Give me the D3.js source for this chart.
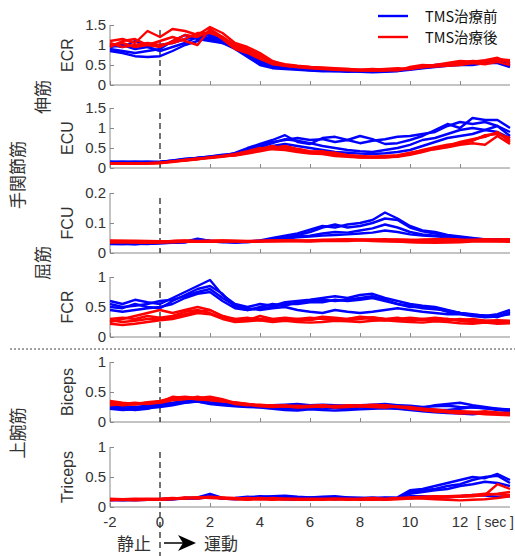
<!DOCTYPE html>
<html>
<head>
<meta charset="utf-8">
<script src="https://cdn.jsdelivr.net/npm/d3@7"></script>
<style>
  body { margin: 0; background: #fff; }
  text { font-family: "Noto Sans CJK JP", "Noto Sans", sans-serif; }
</style>
</head>
<body>
<svg id="chart" width="515" height="556"></svg>
<script>
// time axis: -2 .. 14 sec, sampled every 0.5 sec
var times = d3.range(-2, 14.01, 0.5);
var xTicks = [-2, 0, 2, 4, 6, 8, 10, 12];
var seriesNames = ["TMS治療前", "TMS治療後"];

var muscles = ["ECR", "ECU", "FCU", "FCR", "Biceps", "Triceps"];
var yMax = [1.5, 1.5, 0.2, 1, 1, 1];
var yTicks = [[0, 0.5, 1, 1.5], [0, 0.5, 1, 1.5], [0, 0.1, 0.2], [0, 0.5, 1], [0, 0.5, 1], [0, 0.5, 1]];

// before TMS (blue), 4 trials per muscle
var ecrBefore = [
  [0.95,1.00,0.90,0.95,1.00,1.05,1.15,1.20,1.15,1.05,0.95,0.75,0.55,0.45,0.42,0.40,0.38,0.38,0.36,0.35,0.36,0.35,0.36,0.38,0.40,0.45,0.48,0.50,0.52,0.55,0.55,0.60,0.50],
  [0.85,0.80,0.72,0.70,0.72,0.85,1.00,1.10,1.20,1.10,1.00,0.85,0.60,0.48,0.42,0.40,0.37,0.36,0.35,0.34,0.33,0.32,0.33,0.35,0.38,0.42,0.45,0.48,0.50,0.50,0.55,0.55,0.45],
  [0.90,0.85,0.80,0.85,0.90,1.10,1.25,1.15,1.10,1.05,0.90,0.70,0.50,0.42,0.40,0.38,0.36,0.34,0.35,0.33,0.34,0.36,0.35,0.36,0.40,0.43,0.46,0.50,0.55,0.58,0.60,0.62,0.55],
  [1.00,0.95,1.10,0.95,0.85,0.95,1.05,1.20,1.25,1.15,1.00,0.80,0.58,0.50,0.45,0.42,0.40,0.39,0.37,0.36,0.36,0.35,0.34,0.35,0.42,0.46,0.50,0.52,0.55,0.52,0.58,0.60,0.48]
];
var ecuBefore = [
  [0.15,0.16,0.15,0.14,0.15,0.18,0.22,0.25,0.27,0.30,0.35,0.45,0.55,0.65,0.70,0.75,0.70,0.72,0.65,0.70,0.62,0.68,0.72,0.78,0.80,0.85,0.90,1.05,1.15,1.10,1.15,1.05,0.90],
  [0.14,0.15,0.16,0.15,0.14,0.17,0.20,0.24,0.28,0.30,0.38,0.50,0.60,0.70,0.82,0.65,0.60,0.75,0.78,0.70,0.80,0.72,0.60,0.62,0.70,0.80,0.95,1.10,1.00,1.25,1.20,1.20,1.00],
  [0.16,0.15,0.14,0.15,0.16,0.18,0.21,0.26,0.28,0.32,0.33,0.40,0.48,0.55,0.60,0.55,0.50,0.45,0.40,0.38,0.36,0.35,0.37,0.40,0.45,0.55,0.65,0.75,0.80,0.85,0.95,0.90,0.75],
  [0.15,0.14,0.15,0.16,0.15,0.19,0.23,0.25,0.29,0.33,0.36,0.42,0.52,0.62,0.72,0.68,0.62,0.55,0.50,0.45,0.42,0.40,0.45,0.50,0.58,0.70,0.75,0.85,0.95,1.00,0.95,1.05,0.80]
];
var fcuBefore = [
  [0.030,0.031,0.029,0.032,0.034,0.035,0.038,0.048,0.040,0.037,0.036,0.038,0.042,0.050,0.058,0.065,0.078,0.090,0.085,0.095,0.100,0.110,0.135,0.115,0.090,0.075,0.070,0.060,0.055,0.050,0.045,0.045,0.044],
  [0.033,0.032,0.031,0.030,0.033,0.034,0.036,0.044,0.039,0.036,0.037,0.036,0.040,0.045,0.052,0.060,0.070,0.085,0.095,0.085,0.090,0.100,0.115,0.110,0.085,0.072,0.065,0.058,0.052,0.048,0.046,0.044,0.043],
  [0.031,0.030,0.032,0.031,0.032,0.035,0.037,0.045,0.041,0.038,0.035,0.037,0.041,0.044,0.050,0.055,0.058,0.065,0.070,0.068,0.075,0.082,0.095,0.085,0.070,0.062,0.058,0.055,0.050,0.046,0.045,0.043,0.042],
  [0.032,0.031,0.030,0.032,0.033,0.034,0.036,0.043,0.040,0.037,0.036,0.037,0.039,0.043,0.048,0.052,0.055,0.058,0.060,0.062,0.065,0.068,0.075,0.070,0.062,0.058,0.056,0.052,0.049,0.047,0.044,0.042,0.041]
];
var fcrBefore = [
  [0.60,0.55,0.62,0.58,0.55,0.65,0.75,0.85,0.95,0.70,0.55,0.50,0.55,0.52,0.58,0.60,0.62,0.65,0.68,0.65,0.70,0.72,0.65,0.60,0.55,0.52,0.50,0.45,0.40,0.38,0.35,0.38,0.45],
  [0.50,0.48,0.55,0.50,0.48,0.60,0.70,0.80,0.85,0.72,0.50,0.45,0.50,0.55,0.52,0.58,0.60,0.62,0.60,0.62,0.65,0.68,0.62,0.55,0.50,0.50,0.48,0.42,0.40,0.36,0.35,0.35,0.38],
  [0.45,0.42,0.45,0.48,0.50,0.55,0.65,0.72,0.75,0.60,0.48,0.45,0.48,0.50,0.55,0.55,0.58,0.58,0.62,0.60,0.62,0.65,0.60,0.55,0.52,0.48,0.46,0.44,0.40,0.37,0.36,0.33,0.40],
  [0.55,0.50,0.52,0.55,0.60,0.62,0.68,0.75,0.80,0.65,0.52,0.48,0.45,0.48,0.50,0.45,0.42,0.40,0.45,0.42,0.40,0.42,0.45,0.48,0.45,0.42,0.40,0.38,0.38,0.35,0.33,0.34,0.42]
];
var bicepsBefore = [
  [0.25,0.22,0.20,0.22,0.28,0.30,0.33,0.35,0.32,0.30,0.28,0.26,0.27,0.28,0.27,0.26,0.28,0.27,0.26,0.27,0.28,0.26,0.27,0.28,0.25,0.24,0.28,0.30,0.32,0.28,0.25,0.22,0.20],
  [0.22,0.20,0.21,0.23,0.25,0.28,0.32,0.34,0.30,0.28,0.26,0.25,0.24,0.22,0.20,0.19,0.21,0.20,0.19,0.20,0.21,0.22,0.23,0.22,0.20,0.18,0.16,0.15,0.14,0.13,0.15,0.14,0.16],
  [0.28,0.26,0.25,0.27,0.30,0.32,0.35,0.36,0.33,0.31,0.29,0.28,0.27,0.28,0.29,0.30,0.28,0.29,0.28,0.27,0.28,0.29,0.30,0.28,0.27,0.25,0.26,0.27,0.25,0.24,0.23,0.22,0.21],
  [0.24,0.23,0.22,0.25,0.27,0.30,0.33,0.34,0.31,0.29,0.27,0.26,0.25,0.24,0.23,0.22,0.22,0.24,0.23,0.22,0.24,0.25,0.24,0.23,0.22,0.21,0.20,0.20,0.22,0.25,0.23,0.20,0.18]
];
var tricepsBefore = [
  [0.12,0.12,0.13,0.12,0.13,0.14,0.15,0.16,0.22,0.15,0.14,0.16,0.18,0.17,0.16,0.15,0.16,0.15,0.14,0.16,0.15,0.16,0.15,0.16,0.28,0.30,0.35,0.40,0.45,0.50,0.48,0.55,0.45],
  [0.11,0.12,0.11,0.12,0.12,0.13,0.14,0.15,0.18,0.14,0.15,0.17,0.16,0.18,0.19,0.17,0.16,0.17,0.18,0.16,0.15,0.14,0.16,0.15,0.25,0.28,0.30,0.35,0.38,0.45,0.50,0.52,0.40],
  [0.13,0.12,0.12,0.13,0.12,0.13,0.15,0.14,0.17,0.14,0.13,0.14,0.15,0.14,0.13,0.12,0.13,0.14,0.13,0.14,0.15,0.14,0.14,0.15,0.22,0.25,0.28,0.30,0.35,0.38,0.42,0.40,0.35],
  [0.12,0.11,0.12,0.12,0.13,0.14,0.14,0.15,0.16,0.15,0.14,0.15,0.16,0.15,0.14,0.13,0.14,0.15,0.14,0.15,0.14,0.13,0.14,0.15,0.18,0.18,0.17,0.16,0.18,0.20,0.19,0.17,0.18]
];

// after TMS (red)
var ecrAfter = [
  [1.10,1.15,1.05,1.35,1.20,1.40,1.35,1.25,1.45,1.30,1.05,0.95,0.80,0.60,0.50,0.47,0.45,0.42,0.40,0.40,0.38,0.38,0.40,0.42,0.40,0.48,0.50,0.55,0.60,0.58,0.62,0.68,0.55],
  [1.00,1.05,0.95,1.00,1.10,1.20,1.10,1.00,1.40,1.20,1.00,0.90,0.75,0.55,0.48,0.45,0.42,0.40,0.38,0.37,0.36,0.37,0.36,0.38,0.42,0.45,0.50,0.50,0.55,0.60,0.58,0.62,0.60],
  [1.05,0.95,1.00,1.05,1.00,1.05,1.15,1.30,1.30,1.20,0.95,0.85,0.70,0.58,0.52,0.48,0.45,0.44,0.42,0.40,0.38,0.40,0.38,0.36,0.45,0.50,0.48,0.52,0.58,0.55,0.60,0.65,0.62],
  [0.95,1.10,1.15,1.00,0.95,1.10,1.25,1.20,1.35,1.15,0.90,0.80,0.65,0.52,0.48,0.45,0.44,0.42,0.40,0.38,0.37,0.36,0.37,0.39,0.40,0.44,0.46,0.48,0.50,0.55,0.52,0.58,0.50]
];
var ecuAfter = [
  [0.12,0.12,0.11,0.12,0.13,0.16,0.20,0.22,0.27,0.30,0.32,0.38,0.45,0.50,0.55,0.48,0.42,0.40,0.38,0.32,0.30,0.28,0.28,0.30,0.35,0.42,0.50,0.55,0.62,0.70,0.80,0.88,0.70],
  [0.11,0.12,0.12,0.11,0.13,0.15,0.19,0.23,0.25,0.28,0.33,0.40,0.48,0.55,0.48,0.42,0.40,0.37,0.33,0.30,0.27,0.26,0.27,0.28,0.33,0.40,0.48,0.55,0.65,0.72,0.78,0.90,0.65],
  [0.12,0.11,0.12,0.12,0.12,0.16,0.21,0.24,0.26,0.30,0.35,0.42,0.50,0.47,0.45,0.40,0.36,0.35,0.30,0.28,0.26,0.27,0.26,0.29,0.36,0.45,0.52,0.58,0.62,0.68,0.82,0.85,0.75],
  [0.12,0.12,0.11,0.12,0.13,0.17,0.18,0.22,0.26,0.29,0.31,0.36,0.42,0.48,0.52,0.45,0.40,0.42,0.35,0.32,0.29,0.28,0.30,0.32,0.38,0.44,0.47,0.52,0.58,0.62,0.58,0.80,0.60]
];
var fcuAfter = [
  [0.040,0.041,0.039,0.037,0.038,0.040,0.041,0.039,0.040,0.041,0.040,0.039,0.040,0.041,0.042,0.041,0.040,0.042,0.043,0.044,0.045,0.044,0.043,0.045,0.044,0.042,0.043,0.044,0.042,0.041,0.043,0.044,0.045],
  [0.037,0.038,0.036,0.035,0.036,0.038,0.039,0.038,0.039,0.040,0.039,0.038,0.039,0.040,0.041,0.040,0.041,0.043,0.042,0.042,0.043,0.041,0.040,0.038,0.037,0.036,0.037,0.038,0.040,0.042,0.041,0.040,0.042],
  [0.035,0.036,0.035,0.034,0.035,0.036,0.037,0.038,0.037,0.038,0.038,0.037,0.038,0.038,0.039,0.039,0.038,0.040,0.041,0.040,0.042,0.040,0.039,0.038,0.036,0.035,0.034,0.035,0.036,0.038,0.039,0.038,0.037],
  [0.042,0.040,0.041,0.040,0.039,0.040,0.042,0.040,0.041,0.042,0.041,0.040,0.041,0.042,0.043,0.042,0.042,0.044,0.045,0.046,0.044,0.045,0.046,0.044,0.043,0.045,0.046,0.047,0.045,0.044,0.046,0.045,0.046]
];
var fcrAfter = [
  [0.25,0.30,0.35,0.40,0.45,0.40,0.45,0.50,0.45,0.35,0.30,0.28,0.35,0.30,0.28,0.30,0.32,0.30,0.28,0.30,0.32,0.30,0.28,0.30,0.32,0.30,0.28,0.30,0.27,0.25,0.26,0.25,0.24],
  [0.30,0.32,0.30,0.35,0.32,0.35,0.42,0.45,0.40,0.32,0.30,0.32,0.28,0.30,0.32,0.30,0.28,0.32,0.30,0.28,0.30,0.33,0.30,0.28,0.30,0.28,0.30,0.28,0.30,0.28,0.27,0.28,0.27],
  [0.22,0.20,0.22,0.25,0.28,0.30,0.35,0.40,0.38,0.30,0.25,0.26,0.28,0.25,0.27,0.25,0.24,0.25,0.27,0.26,0.25,0.27,0.28,0.26,0.25,0.24,0.26,0.25,0.23,0.22,0.24,0.22,0.23],
  [0.28,0.25,0.27,0.30,0.30,0.33,0.38,0.42,0.45,0.35,0.28,0.30,0.30,0.28,0.30,0.28,0.30,0.34,0.32,0.30,0.34,0.32,0.30,0.32,0.28,0.30,0.32,0.30,0.28,0.30,0.27,0.26,0.25]
];
var bicepsAfter = [
  [0.35,0.32,0.30,0.33,0.35,0.40,0.42,0.40,0.42,0.38,0.32,0.30,0.28,0.27,0.28,0.26,0.27,0.28,0.26,0.28,0.27,0.29,0.28,0.26,0.22,0.20,0.18,0.17,0.16,0.15,0.14,0.15,0.13],
  [0.30,0.28,0.30,0.32,0.34,0.38,0.40,0.38,0.40,0.36,0.30,0.28,0.29,0.27,0.26,0.27,0.26,0.25,0.27,0.26,0.28,0.27,0.26,0.25,0.23,0.22,0.20,0.18,0.17,0.16,0.18,0.16,0.15],
  [0.32,0.30,0.32,0.30,0.33,0.42,0.40,0.38,0.36,0.34,0.33,0.30,0.27,0.28,0.26,0.25,0.26,0.28,0.25,0.27,0.26,0.26,0.27,0.25,0.24,0.20,0.18,0.16,0.14,0.15,0.13,0.12,0.11],
  [0.28,0.30,0.29,0.31,0.32,0.36,0.38,0.42,0.38,0.35,0.31,0.29,0.26,0.25,0.26,0.24,0.25,0.26,0.24,0.25,0.26,0.25,0.24,0.26,0.25,0.22,0.21,0.19,0.18,0.17,0.16,0.15,0.14]
];
var tricepsAfter = [
  [0.13,0.12,0.13,0.14,0.13,0.14,0.16,0.15,0.16,0.15,0.14,0.13,0.14,0.13,0.14,0.13,0.14,0.13,0.14,0.13,0.14,0.15,0.14,0.15,0.16,0.17,0.18,0.17,0.18,0.19,0.20,0.38,0.30],
  [0.12,0.13,0.12,0.13,0.14,0.15,0.14,0.16,0.15,0.14,0.13,0.12,0.13,0.12,0.13,0.12,0.13,0.12,0.13,0.12,0.13,0.14,0.13,0.14,0.15,0.16,0.15,0.16,0.17,0.18,0.20,0.22,0.25],
  [0.14,0.13,0.14,0.13,0.12,0.13,0.15,0.16,0.17,0.16,0.15,0.14,0.15,0.14,0.13,0.14,0.13,0.14,0.13,0.14,0.13,0.12,0.13,0.14,0.15,0.14,0.13,0.12,0.11,0.12,0.13,0.15,0.18],
  [0.11,0.12,0.11,0.12,0.13,0.14,0.15,0.14,0.16,0.15,0.14,0.15,0.14,0.15,0.14,0.13,0.12,0.13,0.14,0.13,0.12,0.13,0.12,0.13,0.14,0.15,0.17,0.18,0.19,0.20,0.22,0.21,0.20]
];

var before = [ecrBefore, ecuBefore, fcuBefore, fcrBefore, bicepsBefore, tricepsBefore];
var after = [ecrAfter, ecuAfter, fcuAfter, fcrAfter, bicepsAfter, tricepsAfter];

var svg = d3.select("#chart");
var axisColor = "#888";
var textColor = "#333";
var numFont = "'Liberation Sans', Arial, sans-serif";
var blue = "#0000ff", red = "#ff0000";

// panel placement (top = yMax, bottom = 0)
var panelTop = [25, 108, 193, 277, 362, 447];
var panelH = 60;

var x = d3.scaleLinear().domain([-2, 14]).range([110, 510]);

muscles.forEach(function (name, i) {
    var y = d3.scaleLinear().domain([0, yMax[i]]).range([panelTop[i] + panelH, panelTop[i]]);
    var g = svg.append("g");

    // left axis, ticks pointing inward
    var ya = g.append("g")
        .attr("transform", "translate(" + x(-2) + ",0)")
        .call(d3.axisRight(y).tickValues(yTicks[i]).tickSize(4).tickFormat(d3.format("~g")));
    ya.select(".domain").attr("stroke", axisColor).attr("d", "M0," + y(yMax[i]) + "V" + y(0));
    ya.selectAll(".tick line").attr("stroke", axisColor);
    ya.selectAll(".tick text").attr("x", -4).attr("text-anchor", "end")
        .attr("fill", textColor).style("font-size", "15px").style("font-family", numFont);

    // bottom axis, ticks pointing up
    var xa = g.append("g")
        .attr("transform", "translate(0," + y(0) + ")")
        .call(d3.axisTop(x).tickValues(xTicks).tickSize(4).tickFormat(""));
    xa.select(".domain").attr("stroke", axisColor).attr("d", "M" + x(-2) + ",0H" + x(14));
    xa.selectAll(".tick line").attr("stroke", axisColor);

    // movement onset
    g.append("line")
        .attr("x1", x(0)).attr("x2", x(0))
        .attr("y1", panelTop[i] + 5).attr("y2", i === 5 ? 556 : y(0))
        .attr("stroke", "#444").attr("stroke-width", 1.5).attr("stroke-dasharray", "6,4");

    var line = d3.line().x(function (d, k) { return x(times[k]); }).y(function (d) { return y(d); });

    g.selectAll(".before").data(before[i]).enter().append("path")
        .attr("d", line).attr("fill", "none").attr("stroke", blue).attr("stroke-width", 2.4)
        .attr("stroke-linejoin", "round");
    g.selectAll(".after").data(after[i]).enter().append("path")
        .attr("d", line).attr("fill", "none").attr("stroke", red).attr("stroke-width", 2.4)
        .attr("stroke-linejoin", "round");

    // muscle label
    var cy = panelTop[i] + panelH / 2;
    g.append("text")
        .attr("transform", "translate(73," + cy + ") rotate(-90)")
        .attr("text-anchor", "middle")
        .attr("fill", textColor).style("font-size", "16px").style("font-family", numFont)
        .text(name);

    // time labels under last panel
    if (i === 5) {
        g.selectAll(".xl").data(xTicks).enter().append("text")
            .attr("x", function (d) { return x(d); }).attr("y", 527)
            .attr("text-anchor", "middle").attr("fill", textColor)
            .style("font-size", "15px").style("font-family", numFont)
            .text(function (d) { return d; });
        g.append("text").attr("x", 514).attr("y", 527).attr("text-anchor", "end").attr("fill", textColor)
            .style("font-size", "14px").style("font-family", numFont)
            .text("[ sec ]");
    }
});

// dotted separator between forearm and upper-arm groups
svg.append("line").attr("x1", 10).attr("x2", 515).attr("y1", 349).attr("y2", 349)
    .attr("stroke", "#444").attr("stroke-width", 1).attr("stroke-dasharray", "2,2");

// group labels
var groups = [["伸筋", 43, 97], ["手関節筋", 18, 175], ["屈筋", 43, 263], ["上腕筋", 18, 433]];
groups.forEach(function (gl) {
    svg.append("text")
        .attr("transform", "translate(" + (gl[1] + 6) + "," + gl[2] + ") rotate(-90)")
        .attr("text-anchor", "middle").attr("fill", textColor)
        .style("font-size", "17px").text(gl[0]);
});

// legend
var legend = svg.append("g");
[blue, red].forEach(function (c, k) {
    legend.append("line").attr("x1", 378).attr("x2", 408)
        .attr("y1", 16 + k * 21).attr("y2", 16 + k * 21)
        .attr("stroke", c).attr("stroke-width", 2.4);
    legend.append("text").attr("x", 425).attr("y", 21.5 + k * 21)
        .attr("fill", "#111").style("font-size", "14.5px").text(seriesNames[k]);
});

// rest -> movement annotation
svg.append("text").attr("x", 151).attr("y", 550).attr("text-anchor", "end")
    .attr("fill", textColor).style("font-size", "17px").text("静止");
svg.append("line").attr("x1", 164).attr("x2", 184).attr("y1", 543).attr("y2", 543)
    .attr("stroke", "#000").attr("stroke-width", 1.5);
svg.append("path").attr("d", "M178,535 L196,543 L178,551 L183,543 Z").attr("fill", "#000");
svg.append("text").attr("x", 204).attr("y", 550)
    .attr("fill", textColor).style("font-size", "17px").text("運動");
</script>
</body>
</html>
